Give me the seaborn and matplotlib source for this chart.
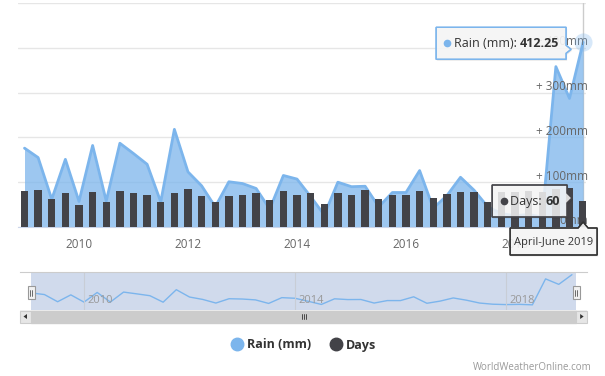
import numpy as np
import pandas as pd
import seaborn as sns
import matplotlib.pyplot as plt
from matplotlib.patches import Polygon, Rectangle
from matplotlib.lines import Line2D
from matplotlib.transforms import offset_copy

# quarterly data, Jan-Mar 2009 .. Apr-Jun 2019
quarters = pd.period_range("2009Q1", "2019Q2", freq="Q")
x = quarters.year + (quarters.quarter - 1) / 4.0
quarter_names = ["January-March", "April-June", "July-September", "October-December"]

rain = [176, 155, 62, 151, 57, 182, 58, 187, 164, 140,
        56, 218, 123, 92, 45, 101, 97, 86, 40, 115,
        107, 68, 27, 100, 90, 91, 45, 77, 77, 126,
        42, 70, 111, 82, 45, 30, 25, 28, 22, 358,
        287, 412.25]
days = [84, 86, 65, 79, 51, 81, 58, 84, 78, 75,
        58, 79, 88, 71, 58, 71, 74, 78, 62, 82,
        75, 78, 54, 78, 75, 86, 65, 75, 75, 82,
        66, 77, 80, 81, 58, 80, 80, 82, 80, 88,
        90, 60]

year_ticks = [2010, 2012, 2014, 2016, 2018]
nav_ticks = [2010, 2014, 2018]
rain_ticks = [0, 100, 200, 300, 400, 500]

BLUE = "#7cb5ec"
DARK = "#434348"
W, H = 605, 376

sns.set_style("white")
plt.rcParams["font.family"] = ["Open Sans", "DejaVu Sans"]

fig = plt.figure(figsize=(W / 100, H / 100), dpi=100)

# ---- main chart ----
ax = fig.add_axes([18 / W, 149 / H, 568 / W, 224 / H])
ax2 = ax.twinx()

ax.fill_between(x, rain, color=BLUE, alpha=0.75, lw=0, zorder=2)
sns.lineplot(x=x, y=rain, ax=ax, color=BLUE, lw=2, zorder=3)
ax.axvline(x[-1], color="#cccccc", lw=1, zorder=1)
ax.scatter([x[-1]], [rain[-1]], s=170, color=BLUE, alpha=0.3, lw=0, zorder=5, clip_on=False)

sns.barplot(x=x, y=days, ax=ax2, native_scale=True, color=DARK, saturation=1,
            width=0.55, errorbar=None, linewidth=0, edgecolor=DARK)

ax.set_xlim(2009 - 6.5 / 54.5, 2009 + 561.5 / 54.5)
ax.set_ylim(0, 500)
ax2.set_ylim(0, 517)

ax.set_yticks(rain_ticks)
ax.yaxis.grid(True, color="#e6e6e6", lw=1)
ax.set_axisbelow(True)
ax.tick_params(axis="y", left=False, labelleft=False)
ax2.set_yticks([])
ax2.set_ylabel("")
ax.set_ylabel("")
ax.set_xlabel("")

ax.set_xticks(year_ticks)
ax.set_xticklabels([str(y) for y in year_ticks])
ax.tick_params(axis="x", length=5, color="#ccd6eb", labelcolor="#666666", labelsize=8.5, pad=3)
for s in ["top", "right", "left"]:
    ax.spines[s].set_visible(False)
ax.spines["bottom"].set_color("#ccd6eb")
for s in ax2.spines.values():
    s.set_visible(False)

lab_tr = offset_copy(ax.get_yaxis_transform(), fig=fig, x=2, y=6, units="dots")
for v in rain_ticks[:-1]:
    lab = "0mm" if v == 0 else f"+ {v}mm"
    ax.text(1, v, lab, transform=lab_tr, ha="right", va="center",
            color="#666666", fontsize=8.5, zorder=4)

# ---- navigator ----
nav = fig.add_axes([20 / W, 66 / H, 567 / W, 38 / H])
nav.plot(x, rain, color=BLUE, lw=1)
nav.set_xlim(2009 - 11.25 / 52.75, 2009 + 555.75 / 52.75)
nav.set_ylim(-45, 447)
sel_end = x[-1] + 0.08
nav.axvspan(x[0], sel_end, color="#6685c2", alpha=0.3, lw=0)
for yr in nav_ticks:
    nav.axvline(yr, color="#c8cdd6", lw=0.8)
    nav.text(yr, 0.24, str(yr), ha="left", va="center", color="#999999", fontsize=8,
             transform=offset_copy(nav.get_xaxis_transform(), fig=fig, x=3, units="dots"))
nav.set_xticks([])
nav.set_yticks([])
for s in ["right", "left", "bottom"]:
    nav.spines[s].set_visible(False)
nav.spines["top"].set_color("#cccccc")

# ---- overlay in pixel coordinates (tooltips, scrollbar) ----
ov = fig.add_axes([0, 0, 1, 1])
ov.set_xlim(0, W)
ov.set_ylim(H, 0)
ov.axis("off")
ov.set_zorder(10)


def to_px(axes, pt):
    d = axes.transData.transform(pt)
    return ov.transData.inverted().transform(d)


nx0, _ = to_px(nav, (x[0], 0))
nx1, _ = to_px(nav, (sel_end, 0))
ny0 = 310

# scrollbar
ov.add_patch(Rectangle((20, ny0), 567, 13, fc="#f2f2f2", ec="none"))
ov.add_patch(Rectangle((nx0, ny0 + 0.5), nx1 - nx0, 12, fc="#cccccc", ec="#cccccc"))
for bx, d in [(20, -1), (nx1, 1)]:
    ov.add_patch(Rectangle((bx, ny0 + 0.5), 11, 12, fc="#e6e6e6", ec="#cccccc", lw=0.8))
    cx = bx + 5.5
    ov.add_patch(Polygon([(cx + 2 * d, ny0 + 6.5), (cx - 1.5 * d, ny0 + 4), (cx - 1.5 * d, ny0 + 9)],
                         fc="#333333", ec="none"))
gx = (nx0 + nx1) / 2
for dx in (-2, 0, 2):
    ov.plot([gx + dx, gx + dx], [ny0 + 4, ny0 + 9], color="#333333", lw=0.6)

# navigator handles
for hx in (nx0, nx1):
    ov.add_patch(Rectangle((hx - 3.5, 286), 7, 13, fc="#f2f2f2", ec="#999999", lw=0.8))
    for dx in (-1, 1):
        ov.plot([hx + dx, hx + dx], [289.5, 295.5], color="#333333", lw=0.5)


def tooltip(pts, fc, ec, alpha=0.9):
    ov.add_patch(Polygon([(px + 1, py + 1.5) for px, py in pts], fc="black", alpha=0.08, ec="none"))
    ov.add_patch(Polygon(pts, fc=fc, ec=ec, lw=1, alpha=alpha))
    ov.add_patch(Polygon(pts, fc="none", ec=ec, lw=1))


# rain tooltip
rx, ry = to_px(ax, (x[-1], rain[-1]))
r1 = rx - 17
r0 = r1 - 130
tooltip([(r0, ry - 15), (r1, ry - 15), (r1, ry + 3), (r1 + 5, ry + 7), (r1, ry + 11),
         (r1, ry + 17), (r0, ry + 17)], "#f7f7f7", BLUE)
ov.plot([r0 + 11], [ry + 1], "o", ms=4.5, color=BLUE)
t = ov.text(r0 + 18, ry + 1, "Rain (mm): ", ha="left", va="center", fontsize=9, color="#333333")
ov.annotate(f"{rain[-1]:.2f}", xy=(1, 0.5), xycoords=t, ha="left", va="center",
            fontsize=9, fontweight="bold", color="#333333")

# days tooltip
dx_, dy_ = to_px(ax2, (x[-1], days[-1]))
d1 = dx_ - 16
d0 = d1 - 75
tooltip([(d0, dy_ - 16), (d1, dy_ - 16), (d1, dy_ - 8), (d1 + 5, dy_ - 3), (d1, dy_ + 2),
         (d1, dy_ + 16), (d0, dy_ + 16)], "#f7f7f7", DARK, alpha=0.85)
ov.plot([d0 + 12], [dy_], "o", ms=4.5, color=DARK)
t = ov.text(d0 + 18, dy_, "Days: ", ha="left", va="center", fontsize=9, color="#333333")
ov.annotate(f"{days[-1]}", xy=(1, 0.5), xycoords=t, ha="left", va="center",
            fontsize=9, fontweight="bold", color="#333333")

# date tooltip
bx_, by_ = to_px(ax, (x[-1], 0))
q = quarters[-1]
tooltip([(bx_ - 73, by_ + 1), (bx_ - 5, by_ + 1), (bx_, by_ - 5), (bx_ + 5, by_ + 1),
         (bx_ + 14, by_ + 1), (bx_ + 14, by_ + 28), (bx_ - 73, by_ + 28)], "#f7f7f7", "#333333")
ov.text(bx_ - 29.5, by_ + 15, f"{quarter_names[q.quarter - 1]} {q.year}", ha="center",
        va="center", fontsize=8, color="#333333")

# legend and credits
handles = [Line2D([], [], marker="o", ls="", ms=9, color=BLUE),
           Line2D([], [], marker="o", ls="", ms=9, color=DARK)]
fig.legend(handles, ["Rain (mm)", "Days"], loc="center", bbox_to_anchor=(0.5, 1 - 345 / H),
           ncol=2, frameon=False, handletextpad=0.2, columnspacing=1.4, handlelength=1.2,
           prop={"weight": "bold", "size": 9}, labelcolor="#333333")
fig.text(592 / W, 1 - 367 / H, "WorldWeatherOnline.com", ha="right", va="center",
         fontsize=7, color="#999999")

fig.savefig("out.png", dpi=100)
